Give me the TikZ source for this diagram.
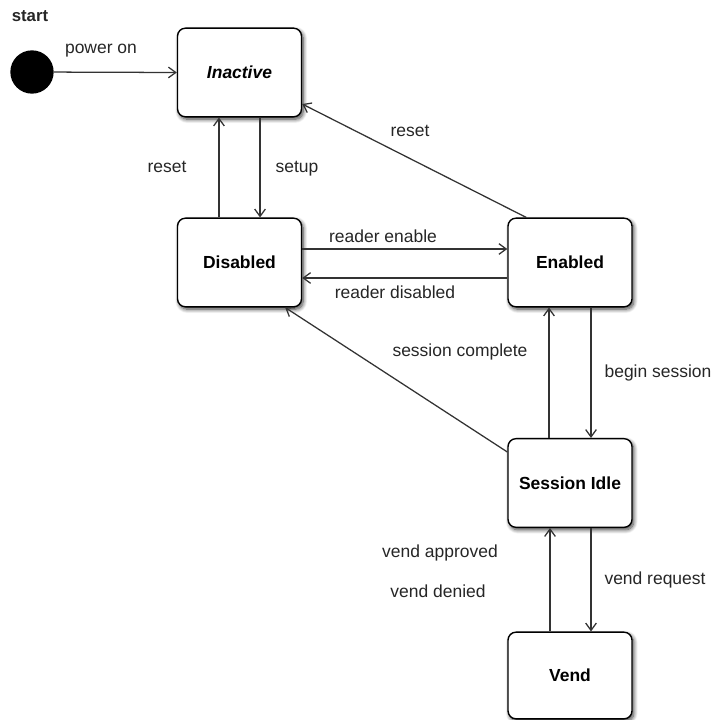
\documentclass[tikz,border=0pt]{standalone}
\usepackage{fontspec}
\setmainfont{Liberation Sans}
\usetikzlibrary{arrows.meta,calc,shadows.blur}

\tikzset{
  state/.style={draw=black, line width=1.05pt, rounded corners=6pt, fill=white,
    minimum width=93pt, minimum height=66.5pt, inner sep=0pt,
    font=\fontsize{13.1}{15}\selectfont\bfseries,
    blur shadow={shadow xshift=1.3pt, shadow yshift=-1.8pt, shadow blur radius=3pt,
      shadow blur steps=10, shadow opacity=75}},
  initial/.style={circle, fill=black, minimum size=32.5pt, inner sep=0pt},
  trans/.style={draw=black!80, line width=0.95pt,
    -{Straight Barb[length=5.5pt,width=8pt,line width=0.95pt]}},
  lbl/.style={font=\fontsize{13.1}{15}\selectfont, text=black!85, inner sep=0pt,
    text height=9.4pt, text depth=2.7pt},
}

\begin{document}
\begin{tikzpicture}[x=0.75pt, y=-0.75pt]
  \useasboundingbox (0,0) rectangle (713,720);

  % states
  \node[initial] (start) at (32,72) {};
  \node[lbl, font=\fontsize{12.6}{15}\selectfont\bfseries] (startlbl) at (30,17) {start};
  \node[state] (inactive) at (239.5,72.5) {\itshape Inactive};
  \node[state] (disabled) at (239.5,262.5) {Disabled};
  \node[state] (enabled) at (570,262.5) {Enabled};
  \node[state] (idle) at (570,483) {Session Idle};
  \node[state, minimum height=65pt] (vend) at (570,675.5) {Vend};

  % transitions
  \draw[trans] (start) -- (inactive.west);
  \node[lbl] (poweron) at (101,49) {power on};

  \draw[trans] ([xshift=15.4pt]inactive.south) -- ([xshift=15.4pt]disabled.north);
  \node[lbl] (setup) at (297,168) {setup};
  \draw[trans] ([xshift=-15.4pt]disabled.north) -- ([xshift=-15.4pt]inactive.south);
  \node[lbl] (reset1) at (167,168) {reset};

  \draw[trans] ($(enabled.north west)+(19,0)$) -- ($(inactive.east)+(0,31.5)$);
  \node[lbl] (reset2) at (410,132) {reset};

  \draw[trans] ($(disabled.east)+(0,-13.5)$) -- ($(enabled.west)+(0,-13.5)$);
  \node[lbl] (renable) at (383,238) {reader enable};
  \draw[trans] ($(enabled.west)+(0,15.5)$) -- ($(disabled.east)+(0,15.5)$);
  \node[lbl] (rdisable) at (395,294) {reader disabled};

  \draw[trans] ($(idle.north west)+(0,14)$) -- ($(disabled.south east)+(-17,0)$);
  \node[lbl] (scomplete) at (460,352) {session complete};

  \draw[trans] ([xshift=-15.75pt]idle.north) -- ([xshift=-15.75pt]enabled.south);
  \draw[trans] ([xshift=15.75pt]enabled.south) -- ([xshift=15.75pt]idle.north);
  \node[lbl] (bsession) at (658,373) {begin session};

  \draw[trans] ([xshift=-15pt]vend.north) -- ([xshift=-15pt]idle.south);
  \node[lbl] (vapproved) at (440,553) {vend approved};
  \node[lbl] (vdenied) at (438,593) {vend denied};
  \draw[trans] ([xshift=15.75pt]idle.south) -- ([xshift=15.75pt]vend.north);
  \node[lbl] (vrequest) at (655,580) {vend request};
\end{tikzpicture}
\end{document}
